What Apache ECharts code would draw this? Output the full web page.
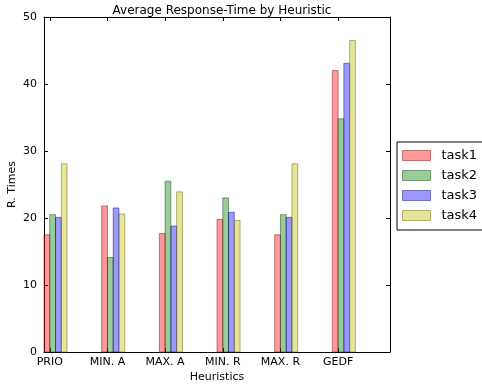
<!DOCTYPE html>
<html>
<head>
<meta charset="utf-8">
<script src="https://cdn.jsdelivr.net/npm/echarts@6/dist/echarts.min.js"></script>
<style>
  html, body { margin: 0; padding: 0; background: #fff; }
  #chart { width: 482px; height: 386px; }
</style>
</head>
<body>
<div id="chart"></div>
<script>
// Heuristic names along the x axis
const heuristics = ['PRIO', 'MIN. A', 'MAX. A', 'MIN. R', 'MAX. R', 'GEDF'];
// Average response time per task, one value per heuristic
const task1 = [17.5, 21.8, 17.7, 19.8, 17.5, 42.0];
const task2 = [20.5, 14.1, 25.5, 23.0, 20.5, 34.8];
const task3 = [20.1, 21.5, 18.8, 20.85, 20.1, 43.1];
const task4 = [28.1, 20.6, 23.9, 19.65, 28.1, 46.5];
const taskNames = ['task1', 'task2', 'task3', 'task4'];
const yTicks = [0, 10, 20, 30, 40, 50];

const barWidth = 0.1;
const fills = ['rgba(255,0,0,0.4)', 'rgba(0,128,0,0.4)', 'rgba(0,0,255,0.4)', 'rgba(191,191,0,0.4)'];
const edges = ['rgba(120,0,0,0.45)', 'rgba(0,60,0,0.45)', 'rgba(0,0,110,0.45)', 'rgba(90,90,0,0.45)'];
const tickPositions = heuristics.map((_, i) => i + barWidth);

const chart = echarts.init(document.getElementById('chart'), null, { renderer: 'canvas' });

// Each task is drawn as a row of thin bars placed side by side within a group
function makeSeries(values, k) {
  return {
    name: taskNames[k],
    type: 'custom',
    xAxisIndex: 0,
    yAxisIndex: 0,
    itemStyle: { color: fills[k], borderColor: edges[k] },
    data: values.map((v, i) => [i, v]),
    renderItem: function (params, api) {
      const idx = api.value(0);
      const val = api.value(1);
      const x0 = idx + k * barWidth;
      const p0 = api.coord([x0, 0]);
      const p1 = api.coord([x0 + barWidth, val]);
      return {
        type: 'rect',
        shape: { x: p0[0], y: p1[1], width: p1[0] - p0[0], height: p0[1] - p1[1] },
        style: { fill: fills[k], stroke: edges[k], lineWidth: 1 }
      };
    }
  };
}

const font = 'DejaVu Sans';
const axisLine = { show: true, onZero: false, lineStyle: { color: '#000', width: 1 } };

chart.setOption({
  animation: false,
  backgroundColor: '#fff',
  title: {
    text: 'Average Response-Time by Heuristic',
    left: 217, top: 0, textAlign: 'center',
    textStyle: { fontFamily: font, fontSize: 12, fontWeight: 'normal', color: '#000' }
  },
  grid: { left: 44, top: 17, width: 346, height: 335, containLabel: false, outerBoundsMode: 'none' },
  legend: {
    orient: 'vertical',
    left: 397, top: 142,
    padding: [7, 40, 8, 5],
    itemWidth: 28, itemHeight: 10, itemGap: 7,
    borderColor: '#000', borderWidth: 1, backgroundColor: '#fff', borderRadius: 0,
    textStyle: { fontFamily: font, fontSize: 13, color: '#000', padding: [0, 0, 0, 6] },
    data: taskNames.map((n, k) => ({ name: n, icon: 'rect', itemStyle: { color: fills[k], borderColor: edges[k], borderWidth: 1 } }))
  },
  xAxis: [
    {
      type: 'value', position: 'bottom', min: 0, max: heuristics.length,
      name: 'Heuristics', nameLocation: 'middle', nameGap: 20, nameMoveOverlap: false,
      nameTextStyle: { fontFamily: font, fontSize: 11, color: '#000' },
      axisLine: axisLine,
      splitLine: { show: false },
      axisTick: { show: true, inside: true, length: 4, customValues: tickPositions, lineStyle: { color: '#000' } },
      axisLabel: {
        show: true, customValues: tickPositions, margin: 5,
        fontFamily: font, fontSize: 11, color: '#000',
        formatter: function (v) { return heuristics[Math.round(v - barWidth)]; }
      }
    },
    {
      type: 'value', position: 'top', min: 0, max: heuristics.length,
      axisLine: axisLine, splitLine: { show: false },
      axisTick: { show: true, inside: true, length: 4, customValues: tickPositions, lineStyle: { color: '#000' } },
      axisLabel: { show: false }
    }
  ],
  yAxis: [
    {
      type: 'value', position: 'left', min: 0, max: 50, interval: 10,
      name: 'R. Times', nameLocation: 'middle', nameGap: 26, nameMoveOverlap: false,
      nameTextStyle: { fontFamily: font, fontSize: 11, color: '#000' },
      axisLine: axisLine, splitLine: { show: false },
      axisTick: { show: true, inside: true, length: 4, lineStyle: { color: '#000' } },
      axisLabel: {
        margin: 7, fontFamily: font, fontSize: 11, color: '#000',
        customValues: yTicks
      }
    },
    {
      type: 'value', position: 'right', min: 0, max: 50, interval: 10,
      axisLine: axisLine, splitLine: { show: false },
      axisTick: { show: true, inside: true, length: 4, lineStyle: { color: '#000' } },
      axisLabel: { show: false }
    }
  ],
  series: [task1, task2, task3, task4].map(makeSeries)
});
</script>
</body>
</html>
